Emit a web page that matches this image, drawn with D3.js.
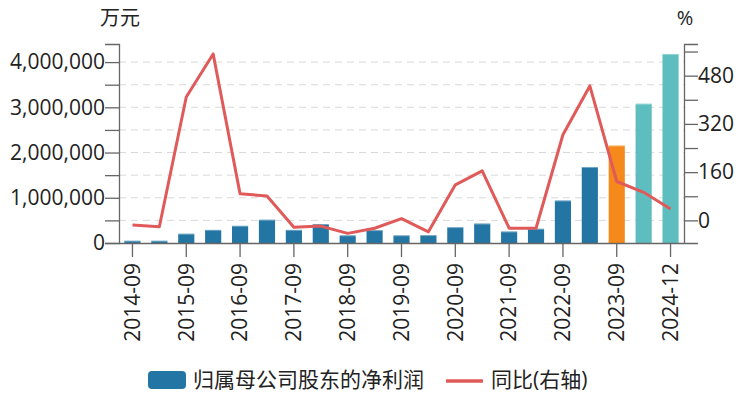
<!DOCTYPE html>
<html><head><meta charset="utf-8">
<script src="https://cdn.jsdelivr.net/npm/d3@7"></script>
<style>body{margin:0;background:#fff}svg{display:block;font-family:"Open Sans","Noto Sans CJK SC",sans-serif}</style>
</head><body><svg id="c" width="747" height="396"></svg>
<script>
const categories = ["2014-09","2014-12","2015-09","2015-12","2016-09","2016-12","2017-09","2017-12","2018-09","2018-12","2019-09","2019-12","2020-09","2020-12","2021-09","2021-12","2022-09","2022-12","2023-09","2023-12","2024-12"];
const profit = [50000,50000,205000,290000,380000,515000,290000,420000,170000,285000,170000,175000,350000,430000,255000,315000,940000,1680000,2155000,3080000,4180000];
const yoy = [-15,-21,409,552,88,81,-23,-19,-43,-26,6,-38,118,164,-26,-26,284,446,129,93,38];
const barKind = ["a","a","a","a","a","a","a","a","a","a","a","a","a","a","a","a","a","a","latest","forecast","forecast"];
const leftTicks = [0,500000,1000000,1500000,2000000,2500000,3000000,3500000,4000000];
const rightTicks = [0,80,160,240,320,400,480,560];
const legendLabels = ["归属母公司股东的净利润","同比(右轴)"];

const svg = d3.select("#c");
const FONT = '"Open Sans","Noto Sans CJK SC",sans-serif';
const L = 119, R = 684, T = 44, B = 243;
const fs = 21;
const x = d3.scaleBand().domain(categories).range([L, R]).paddingInner(0.4).paddingOuter(0.2);
const yL = d3.scaleLinear().domain([0, 4400000]).range([B, T]);
const yR = d3.scaleLinear().domain([-75, 585]).range([B, T]);
const colors = {a:"#2376a3", latest:"#f6891b", forecast:"#5ebebf"};
const lineColor = "#e05a5a";

// grid
svg.append("g").selectAll("line").data(leftTicks.filter(d=>d>0)).join("line")
  .attr("x1", L).attr("x2", R).attr("y1", d=>yL(d)).attr("y2", d=>yL(d))
  .attr("stroke", "#d9d9d9").attr("stroke-width", 1).attr("stroke-dasharray", "7,5");

// bars
svg.append("g").selectAll("rect").data(categories).join("rect")
  .attr("x", d=>x(d)).attr("width", x.bandwidth())
  .attr("y", (d,i)=>yL(profit[i])).attr("height", (d,i)=>B - yL(profit[i]))
  .attr("fill", (d,i)=>colors[barKind[i]]);
svg.append("g").selectAll("line").data(categories).join("line")
  .attr("x1", d=>x(d)).attr("x2", d=>x(d)+x.bandwidth())
  .attr("y1", (d,i)=>yL(profit[i])+0.5).attr("y2", (d,i)=>yL(profit[i])+0.5)
  .attr("stroke", "#ffffff").attr("stroke-opacity", 0.35);

// line
const line = d3.line().x((d,i)=>x(categories[i]) + x.bandwidth()/2).y(d=>yR(d));
svg.append("path").datum(yoy).attr("d", line).attr("fill","none")
  .attr("stroke", lineColor).attr("stroke-width", 3).attr("stroke-linejoin","round");

// axes
const axL = d3.axisLeft(yL).tickValues(leftTicks).tickSize(14).tickPadding(0)
  .tickFormat(d => d % 1000000 === 0 ? d3.format(",")(d) : "");
const gL = svg.append("g").attr("transform", `translate(${L},0)`).call(axL);
const axR = d3.axisRight(yR).tickValues(rightTicks).tickSize(14).tickPadding(0)
  .tickFormat(d => d % 160 === 0 ? d : "");
const gR = svg.append("g").attr("transform", `translate(${R},0)`).call(axR);
const shown = categories.filter((d,i)=>i%2===0);
const axB = d3.axisBottom(x).tickValues(shown).tickSize(14).tickPadding(0);
const gB = svg.append("g").attr("transform", `translate(0,${B})`).call(axB);
gB.selectAll("text").attr("transform","rotate(-90)").attr("text-anchor","end")
  .attr("x", -20).attr("y", 0).attr("dy","0.35em");
[gL,gR,gB].forEach(g=>{
  g.select(".domain").attr("stroke","#666").attr("stroke-width",1.3);
  g.selectAll(".tick line").attr("stroke","#666").attr("stroke-width",1.3);
  g.selectAll("text").attr("font-size", fs).attr("fill","#222").attr("font-family",FONT);
});
gB.select(".domain").attr("d", `M${L},0.5H${R}`);

// unit labels
svg.append("text").attr("x", 120).attr("y", 25).attr("text-anchor","middle").attr("font-size", 20).attr("fill","#222").text("万元");
svg.append("text").attr("x", 685).attr("y", 25).attr("text-anchor","middle").attr("font-size", 20).attr("fill","#222").text("%");

// legend
const lg = svg.append("g");
lg.append("rect").attr("x",148).attr("y",371).attr("width",38).attr("height",18).attr("rx",4).attr("fill",colors.a);
lg.append("text").attr("x",193).attr("y",380).attr("dy","0.35em").attr("font-size",fs).attr("fill","#222").text(legendLabels[0]);
lg.append("line").attr("x1",446).attr("x2",483).attr("y1",381).attr("y2",381).attr("stroke",lineColor).attr("stroke-width",3.5);
lg.append("text").attr("x",491).attr("y",380).attr("dy","0.35em").attr("font-size",fs).attr("fill","#222").text(legendLabels[1]);
</script></body></html>
